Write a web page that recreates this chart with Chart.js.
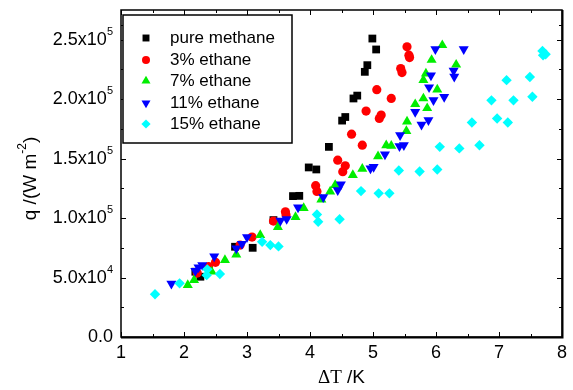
<!DOCTYPE html>
<html>
<head>
<meta charset="utf-8">
<script src="https://cdn.jsdelivr.net/npm/chart.js@4.4.0/dist/chart.umd.min.js"></script>
<style>
  html, body { margin: 0; padding: 0; background: #fff; }
</style>
</head>
<body>
<canvas id="chart" width="573" height="390"></canvas>
<script>
// Series names (legend)
const seriesNames = ['pure methane', '3% ethane', '7% ethane', '11% ethane', '15% ethane'];

// pure methane
const methaneT = [2.18, 2.26, 2.81, 3.09, 3.42, 3.73, 3.83, 3.98, 4.10, 4.30, 4.51, 4.56, 4.69, 4.75, 4.87, 4.91, 4.99, 5.05];
const methaneQ = [54900, 50700, 75900, 75000, 98300, 118500, 118700, 142600, 140900, 159900, 182000, 185000, 200600, 203000, 223000, 228600, 251000, 241800];

// 3% ethane
const eth3T = [2.21, 2.39, 2.50, 2.89, 3.08, 3.42, 3.61, 3.62, 4.09, 4.11, 4.44, 4.52, 4.56, 4.66, 4.83, 4.89, 5.06, 5.10, 5.13, 5.29, 5.44, 5.46, 5.54, 5.57, 5.58];
const eth3Q = [53800, 59100, 62800, 77300, 84000, 97500, 105300, 102500, 127300, 122400, 148700, 139000, 144000, 170600, 161300, 190000, 208000, 183800, 186600, 200600, 225800, 222400, 244000, 237000, 235000];

// 7% ethane
const eth7T = [2.06, 2.16, 2.44, 2.65, 2.83, 3.21, 3.49, 3.77, 3.90, 4.18, 4.32, 4.40, 4.68, 4.83, 5.08, 5.21, 5.29, 5.53, 5.54, 5.67, 5.80, 5.86, 6.02, 5.80, 5.84, 5.93, 6.32, 6.10];
const eth7Q = [43700, 47900, 54900, 64700, 69300, 85700, 92400, 100800, 108400, 115500, 122300, 127700, 136100, 141400, 151900, 161200, 160700, 173100, 181100, 195800, 200600, 192400, 208100, 216000, 221600, 233000, 229000, 245400];

// 11% ethane
const eth11T = [1.80, 2.18, 2.23, 2.29, 2.48, 2.83, 2.92, 3.00, 3.53, 3.63, 3.81, 4.21, 4.44, 4.49, 4.96, 5.01, 5.19, 5.42, 5.49, 5.43, 5.77, 5.88, 5.67, 5.96, 6.13, 5.89, 5.92, 6.28, 6.29, 5.99, 6.44];
const eth11Q = [44800, 55500, 58600, 60500, 67800, 74500, 78200, 84000, 97900, 99200, 109000, 117600, 123500, 128300, 141800, 143100, 153500, 160500, 161300, 169700, 178600, 182400, 189300, 199200, 201900, 210000, 220000, 224000, 219000, 242000, 242000];

// 15% ethane
const eth15T = [1.54, 1.93, 2.37, 2.36, 2.57, 3.24, 3.37, 3.50, 4.11, 4.13, 4.47, 4.81, 5.09, 5.26, 5.41, 5.74, 6.02, 6.06, 6.37, 6.69, 6.57, 6.88, 6.97, 7.14, 7.23, 7.12, 7.49, 7.53, 7.69, 7.74, 7.70];
const eth15Q = [35900, 45100, 56900, 52000, 53000, 80000, 77300, 76200, 103000, 96900, 99000, 122700, 120800, 120800, 140000, 139200, 140900, 159900, 158600, 161300, 180400, 199000, 183800, 180400, 199000, 216000, 218700, 202000, 240600, 237800, 237000];

// Axis ticks
const xMajor = [1, 2, 3, 4, 5, 6, 7, 8];
const xLabels = ['1', '2', '3', '4', '5', '6', '7', '8'];
const xMinor = [1.5, 2.5, 3.5, 4.5, 5.5, 6.5, 7.5];
const yMajor = [0, 50000, 100000, 150000, 200000, 250000];
const yMant = ['0.0', '5.0x10', '1.0x10', '1.5x10', '2.0x10', '2.5x10'];
const yExp = ['', '4', '5', '5', '5', '5'];
const yMinor = [25000, 75000, 125000, 175000, 225000, 262500];

const sans = '"Liberation Sans", Arial, Helvetica, sans-serif';
const serif = '"Liberation Serif", "Times New Roman", serif';

function pts(xs, ys) {
    return xs.map((v, i) => ({ x: v, y: ys[i] }));
}

// marker styles per series
const styles = [
    { color: '#000000', pointStyle: 'rect', radius: 5.5, rotation: 0 },
    { color: '#ff0000', pointStyle: 'circle', radius: 4.6, rotation: 0 },
    { color: '#00ee00', pointStyle: 'triangle', radius: 5.8, rotation: 0 },
    { color: '#0000ff', pointStyle: 'triangle', radius: 5.8, rotation: 180 },
    { color: '#00ffff', pointStyle: 'rectRot', radius: 5.2, rotation: 0 }
];
const seriesData = [
    pts(methaneT, methaneQ),
    pts(eth3T, eth3Q),
    pts(eth7T, eth7Q),
    pts(eth11T, eth11Q),
    pts(eth15T, eth15Q)
];

const datasets = seriesData.map((d, i) => ({
    label: seriesNames[i],
    data: d,
    showLine: false,
    pointStyle: styles[i].pointStyle,
    pointRadius: styles[i].radius,
    pointRotation: styles[i].rotation,
    pointBackgroundColor: styles[i].color,
    pointBorderColor: styles[i].color,
    pointBorderWidth: 0,
    order: 5 - i
}));

// frame, inward ticks, labels, titles and legend
const framePlugin = {
    id: 'frame',
    afterDatasetsDraw(chart) {
        const ctx = chart.ctx;
        const a = chart.chartArea;
        const x = chart.scales.x;
        const y = chart.scales.y;
        ctx.save();
        ctx.strokeStyle = '#000';
        ctx.lineWidth = 1.5;
        ctx.strokeRect(a.left, a.top, a.right - a.left, a.bottom - a.top);
        // right and bottom edges a little heavier
        ctx.lineWidth = 2;
        ctx.beginPath();
        ctx.moveTo(a.left, a.bottom + 0.5); ctx.lineTo(a.right + 0.5, a.bottom + 0.5);
        ctx.lineTo(a.right + 0.5, a.top);
        ctx.stroke();

        // tick marks (inside the frame, on all four sides)
        ctx.lineWidth = 1;
        ctx.beginPath();
        xMajor.forEach(v => {
            const px = Math.round(x.getPixelForValue(v)) + 0.5;
            ctx.moveTo(px, a.bottom); ctx.lineTo(px, a.bottom - 5);
            ctx.moveTo(px, a.top); ctx.lineTo(px, a.top + 5);
        });
        xMinor.forEach(v => {
            const px = Math.round(x.getPixelForValue(v)) + 0.5;
            ctx.moveTo(px, a.bottom); ctx.lineTo(px, a.bottom - 3);
            ctx.moveTo(px, a.top); ctx.lineTo(px, a.top + 3);
        });
        yMajor.forEach(v => {
            const py = Math.round(y.getPixelForValue(v)) + 0.5;
            ctx.moveTo(a.left, py); ctx.lineTo(a.left + 5, py);
            ctx.moveTo(a.right, py); ctx.lineTo(a.right - 5, py);
        });
        yMinor.forEach(v => {
            const py = Math.round(y.getPixelForValue(v)) + 0.5;
            ctx.moveTo(a.left, py); ctx.lineTo(a.left + 3, py);
            ctx.moveTo(a.right, py); ctx.lineTo(a.right - 3, py);
        });
        ctx.stroke();

        // x tick labels
        ctx.fillStyle = '#000';
        ctx.font = '18px ' + sans;
        ctx.textAlign = 'center';
        ctx.textBaseline = 'middle';
        xMajor.forEach((v, i) => {
            ctx.fillText(xLabels[i], x.getPixelForValue(v), a.bottom + 16);
        });

        // y tick labels with superscript exponent
        yMajor.forEach((v, i) => {
            const py = y.getPixelForValue(v);
            const right = a.left - 8;
            let ew = 0;
            if (yExp[i]) {
                ctx.font = '11px ' + sans;
                ew = ctx.measureText(yExp[i]).width;
                ctx.textAlign = 'right';
                ctx.textBaseline = 'middle';
                ctx.fillText(yExp[i], right, py - 8);
            }
            ctx.font = '18px ' + sans;
            ctx.textAlign = 'right';
            ctx.textBaseline = 'middle';
            ctx.fillText(yMant[i], right - ew, py);
        });

        // x title: ΔT /K
        ctx.textBaseline = 'middle';
        ctx.textAlign = 'left';
        ctx.font = '19px ' + serif;
        const w1 = ctx.measureText('\u0394T').width;
        ctx.font = '19px ' + sans;
        const w2 = ctx.measureText(' /K').width;
        const cx = (a.left + a.right) / 2;
        let sx = cx - (w1 + w2) / 2;
        ctx.font = '19px ' + serif;
        ctx.fillText('\u0394T', sx, 378);
        ctx.font = '19px ' + sans;
        ctx.fillText(' /K', sx + w1, 378);

        // y title: q /(W m^-2)
        ctx.save();
        ctx.translate(31, (a.top + a.bottom) / 2 + 5);
        ctx.rotate(-Math.PI / 2);
        ctx.font = '19px ' + sans;
        const t1 = 'q /(W m', t3 = ')';
        const tw1 = ctx.measureText(t1).width;
        const tw3 = ctx.measureText(t3).width;
        ctx.font = '12px ' + sans;
        const tw2 = ctx.measureText('-2').width;
        let tx = -(tw1 + tw2 + tw3) / 2;
        ctx.font = '19px ' + sans;
        ctx.fillText(t1, tx, 0);
        ctx.font = '12px ' + sans;
        ctx.fillText('-2', tx + tw1, -8);
        ctx.font = '19px ' + sans;
        ctx.fillText(t3, tx + tw1 + tw2, 0);
        ctx.restore();

        // legend box inside the plot
        const lx = 123, ly = 15, lw = 169, lh = 128;
        ctx.fillStyle = '#fff';
        ctx.fillRect(lx, ly, lw, lh);
        ctx.strokeStyle = '#000';
        ctx.lineWidth = 1.5;
        ctx.strokeRect(lx, ly, lw, lh);
        const rowY = [38, 60, 81, 103, 124];
        seriesNames.forEach((name, i) => {
            ctx.fillStyle = styles[i].color;
            ctx.strokeStyle = styles[i].color;
            Chart.helpers.drawPoint(ctx, {
                pointStyle: styles[i].pointStyle,
                radius: styles[i].radius - 0.6,
                rotation: styles[i].rotation,
                borderWidth: 0
            }, 146, rowY[i]);
            ctx.fillStyle = '#000';
            ctx.font = '17px ' + sans;
            ctx.textAlign = 'left';
            ctx.textBaseline = 'middle';
            ctx.fillText(name, 170, rowY[i]);
        });
        ctx.restore();
    }
};

new Chart(document.getElementById('chart'), {
    type: 'scatter',
    data: { datasets: datasets },
    options: {
        responsive: false,
        animation: false,
        layout: { padding: { top: 10, right: 11, bottom: 0, left: 0 } },
        plugins: {
            legend: { display: false },
            tooltip: { enabled: false }
        },
        scales: {
            x: {
                type: 'linear',
                min: 1,
                max: 8,
                grid: { display: false },
                border: { display: false },
                ticks: { display: false },
                afterFit: function(scale) { scale.height = 53; }
            },
            y: {
                type: 'linear',
                min: 0,
                max: 275000,
                grid: { display: false },
                border: { display: false },
                ticks: { display: false },
                afterFit: function(scale) { scale.width = 121; }
            }
        }
    },
    plugins: [framePlugin]
});
</script>
</body>
</html>
